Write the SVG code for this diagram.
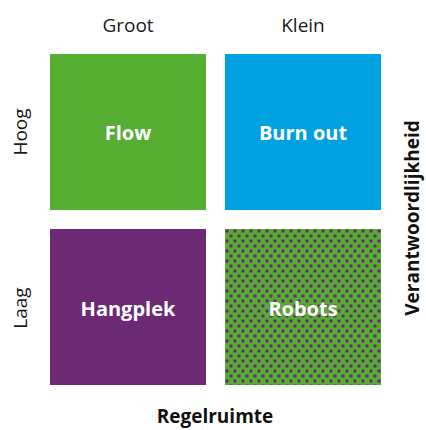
<svg xmlns="http://www.w3.org/2000/svg" width="426" height="430" viewBox="0 0 426 430">
  <style>
    .axis { font-family: "Open Sans", "Liberation Sans", sans-serif; font-size: 19px; fill: #1a1a1a; font-weight: 400; }
    .title { font-family: "Open Sans", "Liberation Sans", sans-serif; font-size: 19px; fill: #111; font-weight: 700; }
    .cell { font-family: "Open Sans", "Liberation Sans", sans-serif; font-size: 20px; fill: #ffffff; font-weight: 700; }
  </style>
  <defs>
    <pattern id="dots" x="225" y="229" width="8" height="10" patternUnits="userSpaceOnUse">
      <rect width="8" height="10" fill="#55ad32"/>
      <rect x="0.5" y="0.5" width="3" height="3" fill="#6c2a74"/>
      <rect x="4.5" y="5.5" width="3" height="3" fill="#6c2a74"/>
    </pattern>
  </defs>

  <rect width="426" height="430" fill="#ffffff"/>

  <!-- column headings -->
  <text class="axis" x="128" y="32" text-anchor="middle">Groot</text>
  <text class="axis" x="303" y="32" text-anchor="middle">Klein</text>

  <!-- row headings -->
  <text class="axis" transform="translate(27,132) rotate(-90)" text-anchor="middle">Hoog</text>
  <text class="axis" transform="translate(27,308) rotate(-90)" text-anchor="middle">Laag</text>

  <!-- quadrants -->
  <g id="flow">
    <rect x="50" y="54" width="156" height="156" fill="#55ad32"/>
    <text class="cell" x="128" y="140" text-anchor="middle">Flow</text>
  </g>
  <g id="burn-out">
    <rect x="225" y="54" width="156" height="156" fill="#00a0e1"/>
    <text class="cell" x="303" y="140" text-anchor="middle">Burn out</text>
  </g>
  <g id="hangplek">
    <rect x="50" y="229" width="156" height="156" fill="#6c2a74"/>
    <text class="cell" x="128" y="316" text-anchor="middle">Hangplek</text>
  </g>
  <g id="robots">
    <rect x="225" y="229" width="156" height="156" fill="url(#dots)"/>
    <text class="cell" x="303" y="316" text-anchor="middle">Robots</text>
  </g>

  <g id="connectors"/>

  <!-- axis titles -->
  <text class="title" x="215" y="423" text-anchor="middle">Regelruimte</text>
  <text class="title" transform="translate(419,218) rotate(-90)" text-anchor="middle">Verantwoordlijkheid</text>
</svg>
